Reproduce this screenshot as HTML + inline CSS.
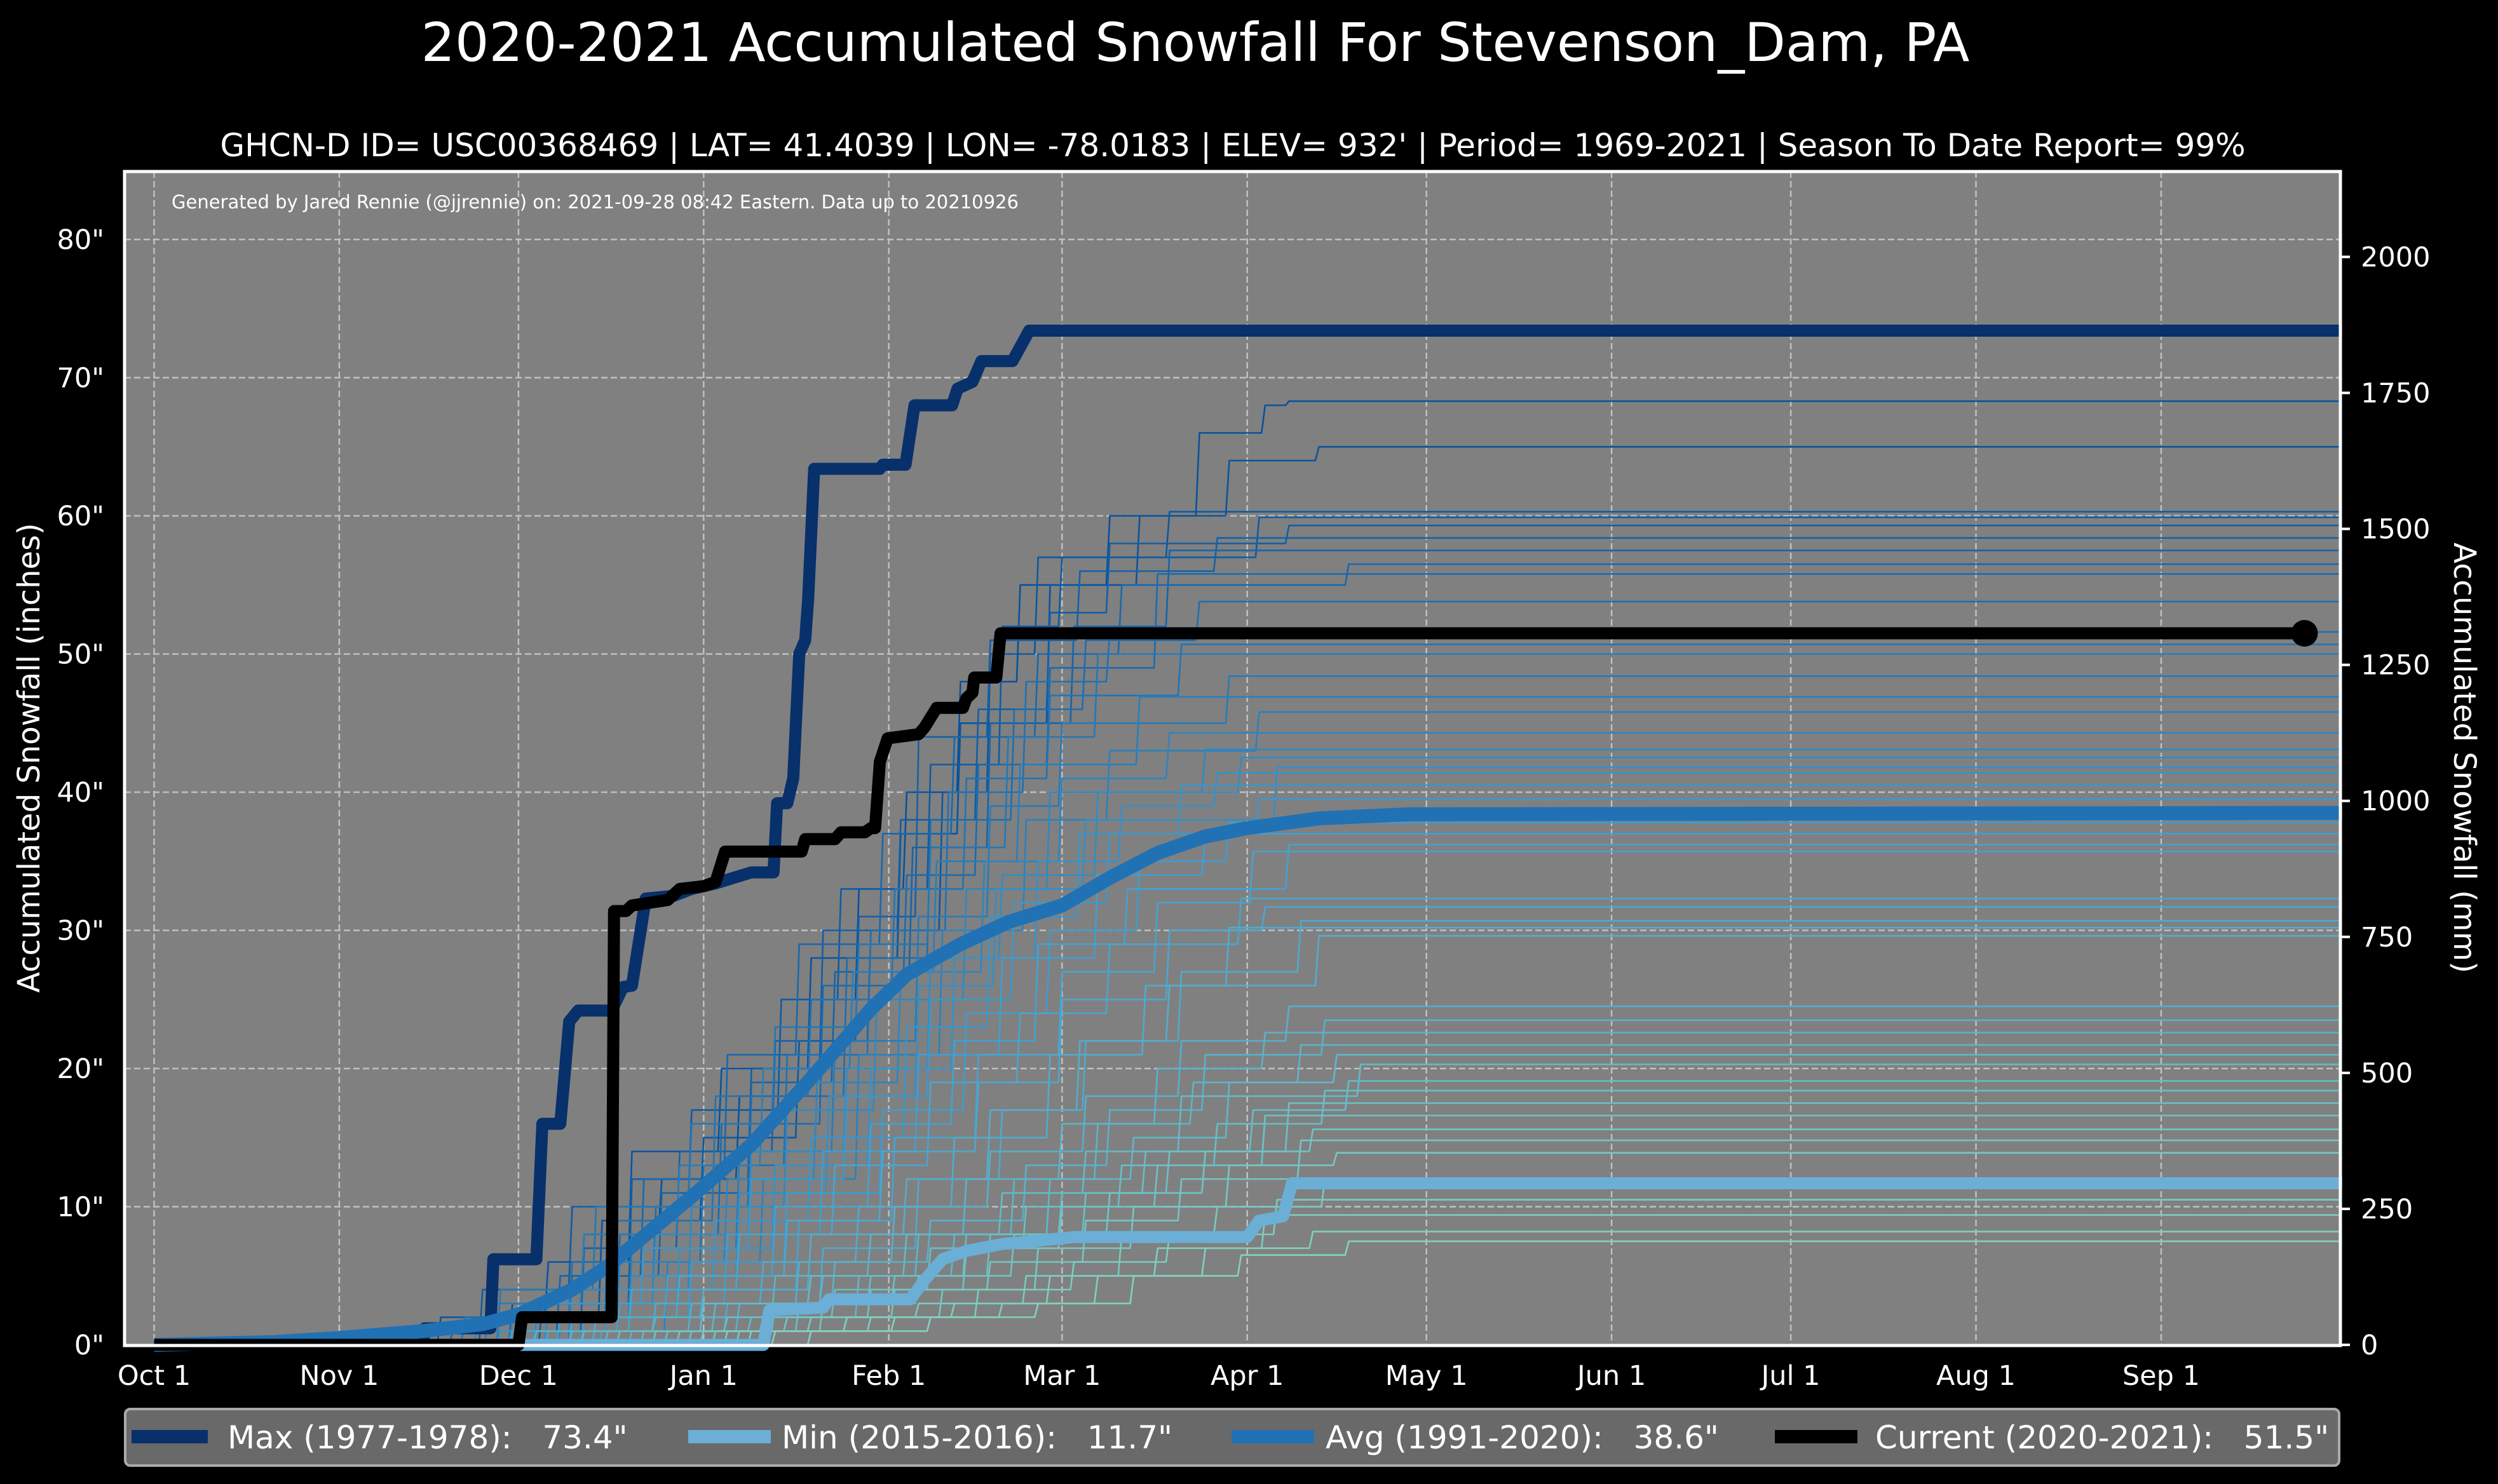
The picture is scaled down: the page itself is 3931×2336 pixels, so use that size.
<!DOCTYPE html>
<html><head><meta charset="utf-8"><style>
html,body{margin:0;padding:0;background:#000;}
svg{display:block;font-family:"DejaVu Sans","Liberation Sans",sans-serif;}
</style></head><body>
<svg id="chart" width="3931" height="2336" viewBox="0 0 3931 2336" xmlns="http://www.w3.org/2000/svg">
<rect width="3931" height="2336" fill="#000"/>
<text x="1881" y="96" fill="#fff" font-size="84" text-anchor="middle">2020-2021 Accumulated Snowfall For Stevenson_Dam, PA</text>
<text x="1940" y="246" fill="#fff" font-size="50" text-anchor="middle">GHCN-D ID= USC00368469 | LAT= 41.4039 | LON= -78.0183 | ELEV= 932' | Period= 1969-2021 | Season To Date Report= 99%</text>
<rect x="196" y="270" width="3487" height="1848" fill="#808080"/>
<g id="grid"></g>
<g id="series"></g>
<rect x="196" y="270" width="3487" height="1848" fill="none" stroke="#fff" stroke-width="5"/>
<text x="270" y="328" fill="#fff" font-size="29">Generated by Jared Rennie (@jjrennie) on: 2021-09-28 08:42 Eastern. Data up to 20210926</text>
<g id="axes"></g>
<text transform="translate(62,1193) rotate(-90)" fill="#fff" font-size="48" text-anchor="middle">Accumulated Snowfall (inches)</text>
<text transform="translate(3862,1193) rotate(90)" fill="#fff" font-size="48" text-anchor="middle">Accumulated Snowfall (mm)</text>
<g>
<rect x="197" y="2218" width="3484" height="89" rx="8" fill="#696969" stroke="#aaa" stroke-width="4"/>
<rect x="207" y="2251" width="120" height="21" fill="#08306b"/>
<text x="358" y="2280" fill="#fff" font-size="50" xml:space="preserve">Max (1977-1978):   73.4"</text>
<rect x="1083" y="2251" width="130" height="21" fill="#6baed6"/>
<text x="1230" y="2280" fill="#fff" font-size="50" xml:space="preserve">Min (2015-2016):   11.7"</text>
<rect x="1938" y="2251" width="130" height="21" fill="#2171b5"/>
<text x="2086" y="2280" fill="#fff" font-size="50" xml:space="preserve">Avg (1991-2020):   38.6"</text>
<rect x="2793" y="2251" width="130" height="21" fill="#000"/>
<text x="2951" y="2280" fill="#fff" font-size="50" xml:space="preserve">Current (2020-2021):   51.5"</text>
</g>
</svg>
<script>
const NS='http://www.w3.org/2000/svg';
const monthLabels=['Oct 1','Nov 1','Dec 1','Jan 1','Feb 1','Mar 1','Apr 1','May 1','Jun 1','Jul 1','Aug 1','Sep 1'];
const monthDays=[0,31,61,92,123,152,183,213,244,274,305,336];
const inchTicks=[0,10,20,30,40,50,60,70,80];
const mmTicks=[0,250,500,750,1000,1250,1500,1750,2000];
const maxSeries=[[0,0],[45,0],[45.3,1.2],[56.3,1.2],[56.8,6.2],[64,6.2],[65,16],[68,16],[69.5,23.4],[71,24.2],[76.6,24.2],[78.5,25.9],[80,26],[82.3,32.3],[87,32.5],[90,33],[94,33.4],[97,33.8],[100,34.2],[103.7,34.2],[104.3,39.2],[106,39.2],[107,41],[108,50],[109,51],[109.5,54],[110.5,63.4],[121.5,63.4],[122,63.7],[125.8,63.7],[127.3,68],[133.6,68],[134.5,69.2],[137,69.7],[138.5,71.2],[143.7,71.2],[146.5,73.4]];
const minSeries=[[0,0],[102,0],[103,2.5],[112,2.7],[113,3.3],[126.6,3.3],[129,4.7],[132,6.2],[136,6.8],[142,7.3],[147,7.5],[154,7.8],[183,7.8],[185,9],[189,9.3],[190.5,11.7]];
const avgSeries=[[0,0],[20,0.2],[31,0.5],[45,1.0],[55,1.5],[61,2.2],[70,4],[76,5.7],[91,11.1],[100,14.5],[110,19.3],[120,24.3],[126,26.8],[135,29.0],[143,30.6],[152,31.8],[160,33.8],[168,35.6],[176,36.8],[183,37.4],[195,38.1],[210,38.4],[366,38.5]];
const currentSeries=[[0,0],[61,0],[61.6,2.0],[76.6,2.0],[77,31.4],[79,31.4],[80,31.8],[86,32.2],[88,33],[92,33.2],[94,33.5],[95.6,35.7],[108.4,35.7],[109,36.6],[114,36.6],[115,37.1],[119,37.1],[120,37.4],[120.7,37.4],[121.5,42.2],[122.8,43.9],[128,44.2],[129,44.7],[131,46.1],[135.4,46.1],[136,46.8],[137,47.2],[137.3,48.3],[141,48.3],[141.7,51.5],[360,51.5]];
const s01=[[60,3],[72,8],[85,12],[98,18],[110,25],[118,33],[126,40],[135,48],[145,55],[160,60],[175,66],[186,68],[190,68.3]];
const s02=[[48,2],[66,6],[80,14],[95,20],[110,28],[125,37],[135,45],[150,55],[165,60],[180,64],[195,65]];
const s03=[[62,2],[75,9],[92,15],[108,22],[120,30],[132,40],[140,50],[148,57],[170,60.3]];
const s04=[[55,4],[70,10],[90,17],[105,25],[115,33],[130,42],[142,52],[152,57],[185,59.9]];
const s05=[[65,3],[80,12],[100,20],[112,30],[125,38],[138,46],[150,53],[160,58],[190,59.3]];
const s06=[[58,1],[72,7],[88,14],[104,22],[118,31],[128,44],[140,51],[155,56],[178,58.4]];
const s07=[[50,1],[68,5],[85,11],[100,19],[114,27],[127,36],[140,45],[154,52],[170,57.5]];
const s08=[[70,5],[82,12],[96,21],[108,29],[122,37],[134,44],[148,50],[162,55],[200,56.5]];
const s09=[[60,2],[78,8],[95,16],[112,26],[126,34],[138,42],[150,49],[168,55.8]];
const s10=[[66,3],[84,10],[100,18],[116,28],[130,38],[144,46],[156,51],[175,53.8]];
const s11=[[52,2],[70,6],[92,13],[106,21],[120,30],[133,40],[146,48],[160,51.6]];
const s12=[[62,1],[76,9],[94,18],[110,25],[124,33],[136,41],[150,47],[172,50.7]];
const s13=[[58,4],[74,10],[90,16],[104,23],[118,29],[130,36],[143,44],[158,50]];
const s14=[[64,2],[80,7],[98,14],[114,22],[128,31],[140,39],[152,45],[180,48.4]];
const s15=[[56,3],[72,8],[88,13],[102,20],[117,27],[131,35],[145,42],[165,46.9]];
const s16=[[68,1],[86,6],[102,12],[118,21],[132,30],[146,38],[160,43],[185,45.8]];
const s17=[[60,2],[78,6],[96,12],[111,19],[125,27],[139,35],[152,41],[170,44.3]];
const s18=[[54,1],[70,4],[90,10],[106,17],[121,25],[136,33],[150,40],[176,43.1]];
const s19=[[66,3],[84,8],[100,14],[116,20],[130,28],[142,34],[158,40],[182,42.5]];
const s20=[[62,2],[80,5],[98,11],[113,18],[128,26],[141,33],[156,38],[188,41.8]];
const s21=[[70,2],[88,7],[104,13],[120,20],[134,28],[148,35],[162,39],[178,41.4]];
const s22=[[58,1],[76,4],[94,9],[110,15],[126,23],[140,31],[155,37],[172,40.5]];
const s23=[[64,3],[82,7],[100,12],[116,18],[130,25],[144,32],[160,37],[185,39.5]];
const s24=[[72,2],[90,6],[106,11],[122,17],[136,24],[150,30],[165,35],[180,37.8]];
const s25=[[60,1],[78,3],[96,8],[112,14],[128,21],[142,28],[158,34],[176,37]];
const s26=[[68,2],[86,5],[104,10],[120,16],[134,22],[148,29],[163,33],[190,36.2]];
const s27=[[75,1],[92,4],[108,9],[124,15],[138,21],[152,27],[168,32],[184,35.7]];
const s28=[[62,1],[80,4],[98,8],[114,13],[130,19],[145,24],[160,29],[182,32.3]];
const s29=[[70,2],[88,5],[106,9],[122,14],[138,19],[152,25],[170,30],[186,31.7]];
const s30=[[78,1],[96,3],[112,7],[128,12],[142,17],[156,22],[172,27],[192,30.7]];
const s31=[[66,1],[84,3],[102,6],[118,10],[134,15],[150,21],[166,26],[180,30.2]];
const s32=[[74,2],[92,4],[110,8],[126,12],[140,17],[155,22],[170,26],[195,29.6]];
const s33=[[70,1],[90,3],[108,6],[124,10],[140,14],[156,18],[172,22],[190,24.5]];
const s34=[[80,1],[98,3],[114,6],[130,9],[146,13],[160,17],[176,21],[196,23.5]];
const s35=[[64,1],[84,2],[104,5],[120,8],[136,12],[152,16],[168,20],[186,22.6]];
const s36=[[76,1],[94,3],[112,5],[128,8],[144,12],[158,16],[174,19],[192,21.7]];
const s37=[[82,1],[100,2],[118,5],[134,8],[150,12],[164,15],[180,19],[198,21]];
const s38=[[72,1],[92,3],[110,5],[126,8],[142,11],[156,14],[172,18],[202,20.3]];
const s39=[[86,1],[104,3],[120,5],[136,8],[152,11],[166,14],[184,17],[200,19.1]];
const s40=[[78,1],[96,2],[114,4],[130,7],[146,10],[162,13],[178,16],[196,18.4]];
const s41=[[90,1],[108,3],[124,5],[140,8],[156,11],[170,14],[190,17.5]];
const s42=[[84,1],[102,2],[120,4],[136,7],[152,10],[168,13],[186,16.6]];
const s43=[[94,1],[112,3],[128,5],[144,8],[160,11],[176,14],[194,15.6]];
const s44=[[88,1],[106,2],[124,4],[140,6],[156,9],[172,12],[192,14.8]];
const s45=[[98,1],[116,2],[132,4],[148,7],[164,10],[180,13],[198,13.9]];
const s46=[[92,1],[110,2],[128,3],[146,5],[162,8],[178,10],[196,11.9]];
const s47=[[100,1],[120,2],[138,4],[154,6],[170,8],[188,10.5]];
const s48=[[96,1],[116,2],[134,3],[150,5],[168,7],[186,9.4]];
const s49=[[104,1],[124,2],[142,3],[158,5],[176,7],[194,8.2]];
const s50=[[110,1],[130,2],[148,3],[164,5],[182,6.5],[200,7.5]];
const pastSeasons=[s01,s02,s03,s04,s05,s06,s07,s08,s09,s10,s11,s12,s13,s14,s15,s16,s17,s18,s19,s20,s21,s22,s23,s24,s25,s26,s27,s28,s29,s30,s31,s32,s33,s34,s35,s36,s37,s38,s39,s40,s41,s42,s43,s44,s45,s46,s47,s48,s49,s50];

const X0=242.5, DX=9.40, Y0=2117, DY=21.75;
function xs(d){return X0+d*DX;}
function ys(v){return Y0-v*DY;}

const grid=document.getElementById('grid');
const axes=document.getElementById('axes');
const ser=document.getElementById('series');
function mk(tag,attrs,parent){const e=document.createElementNS(NS,tag);for(const k in attrs)e.setAttribute(k,attrs[k]);parent.appendChild(e);return e;}

monthDays.forEach((d,i)=>{
  const l=mk('line',{x1:xs(d),x2:xs(d),y1:270,y2:2118,stroke:'#c0c0c0','stroke-width':2.5,'stroke-dasharray':'10,5'},grid);
  
  
  const t=mk('text',{x:xs(d),y:2180,fill:'#fff','font-size':43,'text-anchor':'middle'},axes);
  t.textContent=monthLabels[i];
  
  
});
inchTicks.forEach(v=>{
  const l=mk('line',{x1:196,x2:3683,y1:ys(v),y2:ys(v),stroke:'#c0c0c0','stroke-width':2.5,'stroke-dasharray':'10,5'},grid);
  
  
  const t=mk('text',{x:164,y:ys(v)+15,fill:'#fff','font-size':43,'text-anchor':'end'},axes);
  t.textContent=v+'"';
  
  
});
mmTicks.forEach(v=>{
  const y=ys(v/25.4);
  const l=mk('line',{x1:3683,x2:3698,y1:y,y2:y,stroke:'#fff','stroke-width':4},axes);
  
  
  const t=mk('text',{x:3715,y:y+15,fill:'#fff','font-size':43},axes);
  t.textContent=v;
  
  
});

function stepPath(pts,endDay){
  let p='M'+xs(0).toFixed(1)+','+ys(0).toFixed(1);
  let prev=0;
  pts.forEach(([d,v])=>{
    p+=' L'+xs(d-0.6).toFixed(1)+','+ys(prev).toFixed(1)+' L'+xs(d).toFixed(1)+','+ys(v).toFixed(1);
    prev=v;
  });
  p+=' L'+xs(endDay).toFixed(1)+','+ys(prev).toFixed(1);
  return p;
}
function smoothPath(pts,endDay){
  let p='M'+pts.map(([d,v])=>xs(d).toFixed(1)+','+ys(v).toFixed(1)).join(' L');
  const last=pts[pts.length-1];
  if(last[0]<endDay)p+=' L'+xs(endDay).toFixed(1)+','+ys(last[1]).toFixed(1);
  return p;
}
function lerp(a,b,t){return Math.round(a+(b-a)*t);}
function colorFor(i,n){
  const t=i/(n-1);
  const c1=[8,81,156],c2=[66,160,210],c3=[130,210,190];
  let c;
  if(t<0.5){const u=t/0.5;c=[lerp(c1[0],c2[0],u),lerp(c1[1],c2[1],u),lerp(c1[2],c2[2],u)];}
  else{const u=(t-0.5)/0.5;c=[lerp(c2[0],c3[0],u),lerp(c2[1],c3[1],u),lerp(c2[2],c3[2],u)];}
  return 'rgb('+c.join(',')+')';
}
pastSeasons.forEach((s,i)=>{
  const e=mk('path',{d:stepPath(s,366),fill:'none',stroke:colorFor(i,pastSeasons.length),'stroke-width':2.6,'stroke-linejoin':'round'},ser);
  
  
});
const maxP=mk('path',{d:smoothPath(maxSeries,366.3),fill:'none',stroke:'#08306b','stroke-width':19,'stroke-linejoin':'round'},ser);


const minP=mk('path',{d:smoothPath(minSeries,366.3),fill:'none',stroke:'#6baed6','stroke-width':19,'stroke-linejoin':'round'},ser);


const avgP=mk('path',{d:smoothPath(avgSeries,366.3),fill:'none',stroke:'#2171b5','stroke-width':22,'stroke-linejoin':'round'},ser);


const curP=mk('path',{d:smoothPath(currentSeries,360),fill:'none',stroke:'#000','stroke-width':19,'stroke-linejoin':'round'},ser);


const lastC=currentSeries[currentSeries.length-1];
const dot=mk('circle',{cx:xs(lastC[0]),cy:ys(lastC[1]),r:21,fill:'#000'},ser);


</script>
</body></html>
